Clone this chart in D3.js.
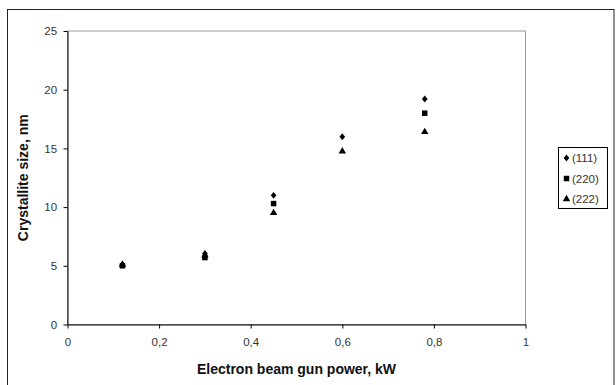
<!DOCTYPE html>
<html><head><meta charset="utf-8">
<script src="https://cdn.jsdelivr.net/npm/d3@7"></script>
<style>body{margin:0;background:#fff}svg{display:block}</style>
</head><body><svg id="c" width="616" height="385"></svg>
<script>
const power = [0.12, 0.30, 0.45, 0.60, 0.78];
const s111 = [5.1, 6.05, 11.0, 16.0, 19.2];
const s220 = [5.0, 5.7, 10.3, null, 18.0];
const s222 = [5.1, 5.9, 9.5, 14.75, 16.4];
const seriesNames = ["(111)", "(220)", "(222)"];
const xTicks = [0, 0.2, 0.4, 0.6, 0.8, 1];
const yTicks = [0, 5, 10, 15, 20, 25];

const svg = d3.select("#c");
const m = {l: 67.5, r: 525.5, t: 31, b: 324.5};
const x = d3.scaleLinear().domain([0, 1]).range([m.l, m.r]);
const y = d3.scaleLinear().domain([0, 25]).range([m.b, m.t]);
const font = "Liberation Sans, Arial, sans-serif";

svg.append("rect").attr("x", 7.5).attr("y", 9.5).attr("width", 606.5).attr("height", 380)
  .attr("fill", "#fff").attr("stroke", "#222").attr("stroke-width", 1);

svg.append("rect").attr("x", m.l).attr("y", m.t).attr("width", m.r - m.l).attr("height", m.b - m.t)
  .attr("fill", "none").attr("stroke", "#999").attr("stroke-width", 1);

const fmt = d => String(d).replace(".", ",");
const xAxis = svg.append("g").attr("transform", `translate(0,${m.b})`)
  .call(d3.axisBottom(x).tickValues(xTicks).tickFormat(fmt).tickSize(4).tickSizeOuter(0));
const yAxis = svg.append("g").attr("transform", `translate(${m.l},0)`)
  .call(d3.axisLeft(y).tickValues(yTicks).tickSize(4).tickSizeOuter(0));
[xAxis, yAxis].forEach(a => {
  a.select(".domain").attr("stroke", "#000");
  a.selectAll(".tick line").attr("stroke", "#000");
  a.selectAll("text").attr("font-family", font).attr("font-size", 11.5).attr("fill", "#333");
});
xAxis.selectAll("text").attr("dy", "1.3em");
yAxis.selectAll("text").attr("dx", "-0.3em");

svg.append("text").attr("x", (m.l + m.r) / 2).attr("y", 374).attr("text-anchor", "middle")
  .attr("font-family", font).attr("font-size", 14).attr("font-weight", "bold").attr("fill", "#111")
  .text("Electron beam gun power, kW");
svg.append("text").attr("transform", `translate(28,${(m.t + m.b) / 2}) rotate(-90)`)
  .attr("text-anchor", "middle").attr("font-family", font).attr("font-size", 14)
  .attr("font-weight", "bold").attr("fill", "#111").text("Crystallite size, nm");

const sizes = [44, 30, 24];
const data = [s111, s220, s222];
const sym = (i) => {
  if (i === 0) return d3.symbol().type({draw(ctx, sz) { const r = Math.sqrt(sz) / 2; ctx.moveTo(0, -r * 1.05); ctx.lineTo(r * 0.85, 0); ctx.lineTo(0, r * 1.05); ctx.lineTo(-r * 0.85, 0); ctx.closePath(); }}).size(sizes[i])();
  if (i === 1) return d3.symbol().type(d3.symbolSquare).size(sizes[i])();
  return d3.symbol().type(d3.symbolTriangle).size(sizes[i])();
};
data.forEach((vals, i) => {
  const pts = vals.map((v, j) => ({x: power[j], v})).filter(p => p.v != null);
  svg.append("g").selectAll("path").data(pts).join("path")
    .attr("transform", p => `translate(${x(p.x)},${y(p.v)})`)
    .attr("d", sym(i)).attr("fill", "#000");
});

const lg = svg.append("g");
lg.append("rect").attr("x", 558.5).attr("y", 147.5).attr("width", 49).attr("height", 61)
  .attr("fill", "#fff").attr("stroke", "#000");
seriesNames.forEach((n, i) => {
  const yy = 158 + i * 20.5;
  lg.append("path").attr("transform", `translate(566.5,${yy})`).attr("d", sym(i)).attr("fill", "#000");
  lg.append("text").attr("x", 572).attr("y", yy).attr("dy", "0.35em")
    .attr("font-family", font).attr("font-size", 11.5).attr("fill", "#333").text(n);
});
</script></body></html>
